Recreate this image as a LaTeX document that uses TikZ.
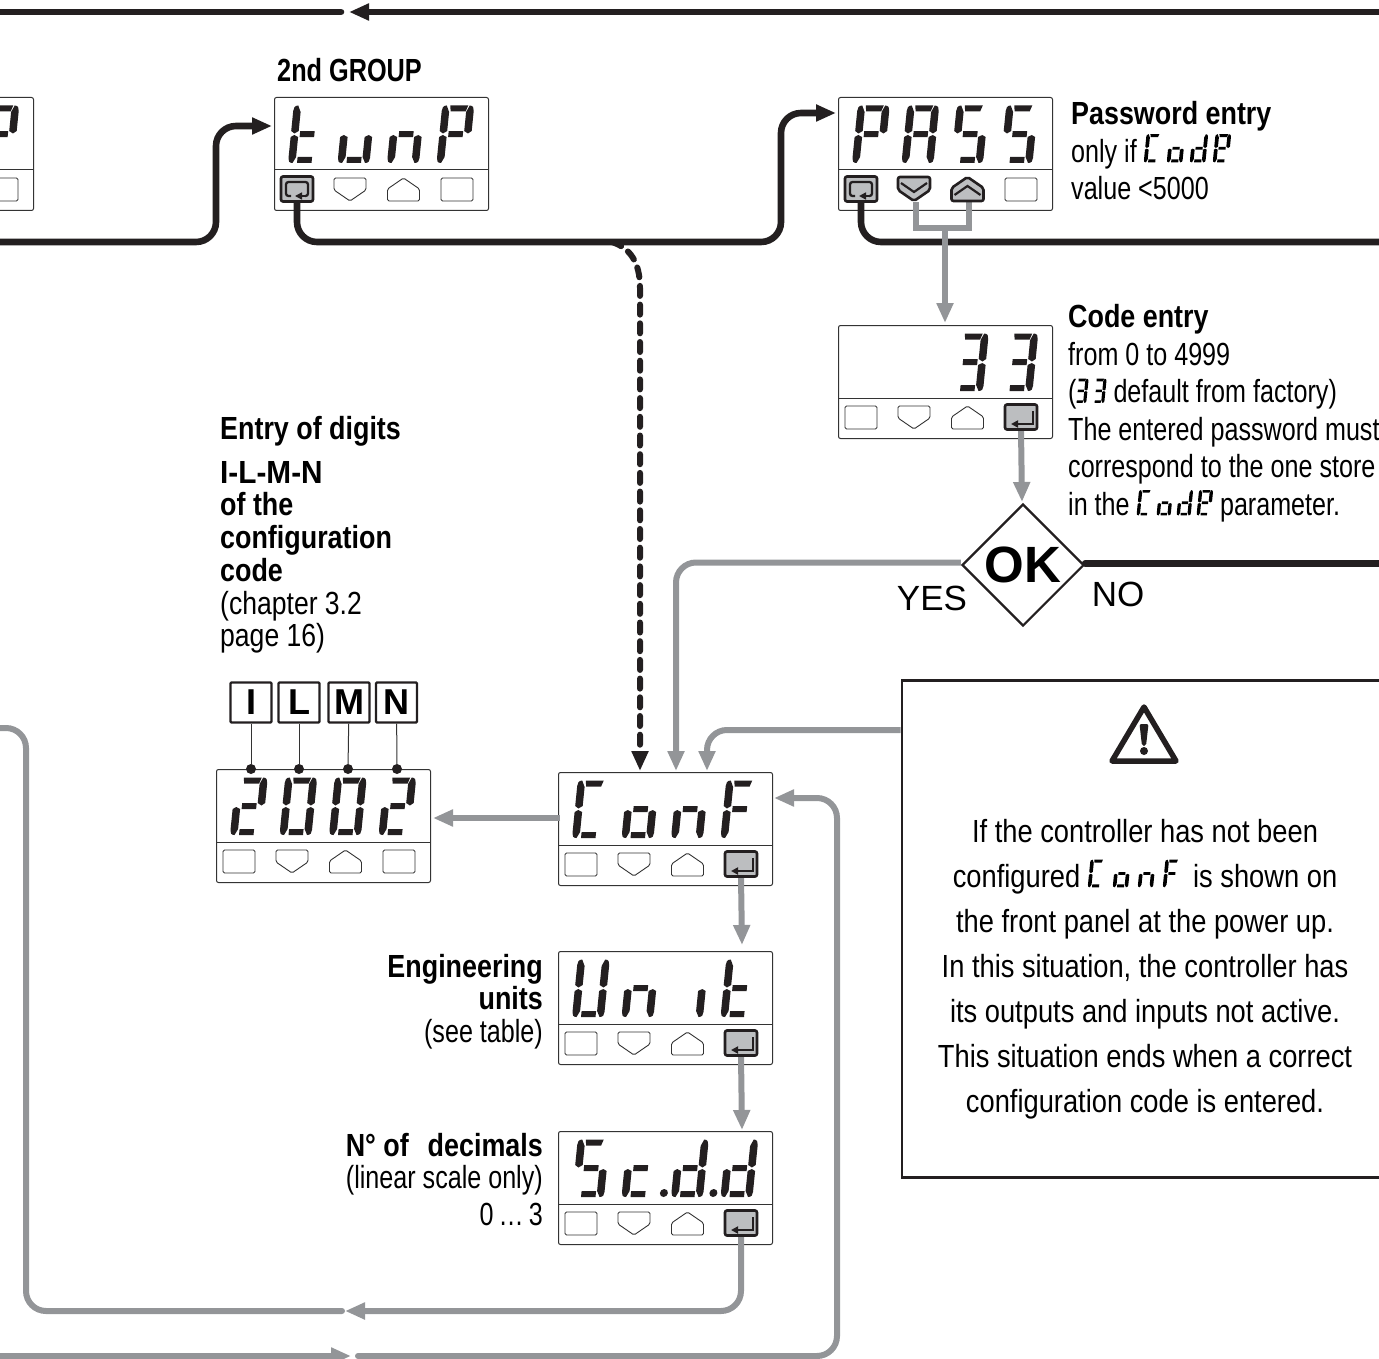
\documentclass[tikz,border=0pt]{standalone}
\usepackage{fontspec}
\usepackage{tikz}
\usetikzlibrary{arrows.meta,shapes.geometric}
\setmainfont{Liberation Sans}[FakeStretch=0.785,BoldFeatures={FakeStretch=0.84}]
\newfontfamily\widefont{Liberation Sans}
\newfontfamily\warnfont{Liberation Sans}[FakeStretch=0.853]
\newfontfamily\groupfont{Liberation Sans}[BoldFeatures={FakeStretch=0.79}]
\newfontfamily\pinsfont{Liberation Sans}[BoldFeatures={FakeStretch=0.93}]
\newfontfamily\pagefont{Liberation Sans}[FakeStretch=0.83]
\definecolor{flowblack}{HTML}{231F20}
\definecolor{flowgray}{HTML}{939598}
\definecolor{keygray}{HTML}{BCBEC0}
\definecolor{panelline}{HTML}{333333}
\tikzset{
  lcdbox/.style={draw=panelline,line width=1pt,rounded corners=2pt,anchor=north west,inner sep=0pt,minimum width=214pt,minimum height=113pt},
  keyspot/.style={inner sep=0pt,minimum width=32pt,minimum height=26pt},
  keyoff/.style={draw=panelline,line width=0.9pt,fill=white,rounded corners=1.5pt},
  keyon/.style={draw=flowblack,line width=2.6pt,fill=keygray,rounded corners=2pt},
  blackflow/.style={draw=flowblack,line width=6.6pt,rounded corners=20pt,line cap=round},
  grayflow/.style={draw=flowgray,line width=6pt,rounded corners=20pt},
  tipped/.style={-{Triangle[length=20pt,width=16pt]}},
  notetext/.style={inner sep=0pt,anchor=north west,align=left,text=black,font=\fontsize{32}{37.5}\selectfont},
  sidetext/.style={inner sep=0pt,anchor=north east,align=right,text=black,font=\fontsize{32}{32.6}\selectfont},
  letterbox/.style={draw=flowblack,line width=2.4pt,rounded corners=1pt,inner sep=0pt,minimum width=41pt,minimum height=40pt,font=\widefont\bfseries\fontsize{36}{36}\selectfont},
  pindot/.style={circle,fill=flowblack,inner sep=0pt,minimum size=10pt},
}
\newcommand{\sega}{\fill (8,57.5) -- (26,57.5) -- (24,51.5) -- (9,51.5) -- cycle;}
\newcommand{\segb}{\fill (27.5,57.5) .. controls (31,57.5) and (32,55) .. (32,52) -- (32,32) -- (28.5,29.5) -- (24.5,32) -- (24.5,51) -- cycle;}
\newcommand{\segc}{\fill (32,26) -- (32,5) .. controls (32,2) and (31,0) .. (27.5,0) -- (24.5,6) -- (24.5,26) -- (28.5,28) -- cycle;}
\newcommand{\segd}{\fill (9,6) -- (23.5,6) -- (23.5,0) -- (9,0) -- cycle;}
\newcommand{\sege}{\fill (0,26) -- (0,5) .. controls (0,2) and (1,0) .. (4.5,0) -- (7.5,6) -- (7.5,26) -- (3.5,28) -- cycle;}
\newcommand{\segf}{\fill (4.5,57.5) .. controls (1,57.5) and (0,55) .. (0,52) -- (0,32) -- (3.5,29.5) -- (7.5,32) -- (7.5,51) -- cycle;}
\newcommand{\segg}{\fill (9,31.8) -- (23.5,31.8) -- (23.5,25.8) -- (9,25.8) -- cycle;}
\newcommand{\segdot}{\fill (-7.5,4) circle (4);}
\newcommand{\chBlank}{}
\newcommand{\chZero}{\sega\segb\segc\segd\sege\segf}
\newcommand{\chTwo}{\sega\segb\segg\sege\segd}
\newcommand{\chThree}{\sega\segb\segg\segc\segd}
\newcommand{\chA}{\sega\segb\segc\sege\segf\segg}
\newcommand{\chBigC}{\sega\segf\sege\segd}
\newcommand{\chSmallC}{\segg\sege\segd}
\newcommand{\chD}{\segb\segc\segd\sege\segg}
\newcommand{\chDotD}{\segdot\chD}
\newcommand{\chE}{\sega\segb\segf\segg\sege\segd}
\newcommand{\chF}{\sega\segf\segg\sege}
\newcommand{\chI}{\segc}
\newcommand{\chN}{\segg\sege\segc}
\newcommand{\chO}{\segg\sege\segd\segc}
\newcommand{\chP}{\sega\segb\segf\segg\sege}
\newcommand{\chS}{\sega\segf\segg\segc\segd}
\newcommand{\chT}{\segf\sege\segd\segg}
\newcommand{\chSmallU}{\sege\segd\segc}
\newcommand{\chBigU}{\segf\sege\segd\segc\segb}
\newcommand{\lcdword}[3]{\tikz[baseline=0pt,x={(#1pt,0pt)},y={(0.1*#1pt,#1pt)}]{\foreach \gl [count=\i from 0] in {#3}{\begin{scope}[shift={(\i*#2/#1,0)}]\gl\end{scope}}}}
\newcommand{\lcdpanel}[4]{
  \node[lcdbox] (#1) at (#2,#3) {};
  \draw[panelline,line width=1pt] ([yshift=-73pt]#1.north west) -- ([yshift=-73pt]#1.north east);
  \begin{scope}[shift={(#2+14,#3+66)},x={(1pt,0pt)},y={(0.1pt,1pt)},fill=flowblack]
    \foreach \gl [count=\i from 0] in {#4}{\begin{scope}[shift={(\i*49.5,0)}]\gl\end{scope}}
  \end{scope}
  \node[keyspot] (#1-k1) at (#2+23,#3+92) {};
  \node[keyspot] (#1-k2) at (#2+76,#3+92) {};
  \node[keyspot] (#1-k3) at (#2+129.5,#3+92) {};
  \node[keyspot] (#1-k4) at (#2+183,#3+92) {};
  \draw[keyoff] (#2+7,#3+81) rectangle (#2+39,#3+104);
  \draw[keyoff] (#2+60,#3+81) -- (#2+92,#3+81) -- (#2+92,#3+93) -- (#2+76,#3+104) -- (#2+60,#3+93) -- cycle;
  \draw[keyoff] (#2+113.5,#3+104) -- (#2+145.5,#3+104) -- (#2+145.5,#3+92) -- (#2+129.5,#3+81) -- (#2+113.5,#3+92) -- cycle;
  \draw[keyoff] (#2+167,#3+81) rectangle (#2+199,#3+104);
}
\newcommand{\keyloop}[1]{
  \begin{scope}[shift={(#1.center)}]
    \draw[keyon] (-16,-12.5) rectangle (16,12.5);
    \draw[flowblack,line width=2.3pt,rounded corners=2.5pt] (-6,7) -- (-11,7) -- (-11,-7) -- (11,-7) -- (11,7) -- (8,7);
    \draw[flowblack,line width=1.6pt,-{Triangle[length=7pt,width=7pt]}] (9,7) -- (-2,7);
  \end{scope}
}
\newcommand{\keyenter}[1]{
  \begin{scope}[shift={(#1.center)}]
    \draw[keyon] (-16,-12.5) rectangle (16,12.5);
    \draw[flowblack,line width=1.8pt,-{Triangle[length=7pt,width=7pt]}] (12,-6) -- (12,7) -- (-10,7);
  \end{scope}
}
\newcommand{\keyvee}[1]{
  \begin{scope}[shift={(#1.center)}]
    \draw[keyon] (-16,-12) -- (16,-12) -- (16,1) -- (0,12) -- (-16,1) -- cycle;
    \draw[flowblack,line width=2.2pt] (-13,-6) -- (0,3) -- (13,-6);
  \end{scope}
}
\newcommand{\keywedge}[1]{
  \begin{scope}[shift={(#1.center)}]
    \draw[keyon] (-16,12) -- (16,12) -- (16,-1) -- (0,-12) -- (-16,-1) -- cycle;
    \draw[flowblack,line width=2.2pt] (-13,6) -- (0,-3) -- (13,6);
  \end{scope}
}
\begin{document}
\begin{tikzpicture}[x=1pt,y=-1pt]
  \useasboundingbox (0,0) rectangle (1379,1359);
  \clip (0,0) rectangle (1379,1359);
  \lcdpanel{first}{-181}{97}{\chBlank,\chBlank,\chBlank,\chP}
  \lcdpanel{tune}{274}{97}{\chT,\chSmallU,\chN,\chP}
  \lcdpanel{pass}{838}{97}{\chP,\chA,\chS,\chS}
  \lcdpanel{code}{838}{325}{\chBlank,\chBlank,\chThree,\chThree}
  \lcdpanel{digits}{216}{769}{\chTwo,\chZero,\chZero,\chTwo}
  \lcdpanel{conf}{558}{772}{\chBigC,\chO,\chN,\chF}
  \lcdpanel{unit}{558}{951}{\chBigU,\chN,\chI,\chT}
  \lcdpanel{scdd}{558}{1131}{\chS,\chSmallC,\chDotD,\chDotD}

  \coordinate (top-e) at (1385,12);
  \coordinate (top-tip) at (349,12);
  \coordinate (top-tail) at (341,12);
  \coordinate (top-w) at (-5,12);
  \coordinate (tune-in) at (272,126);
  \coordinate (pass-in) at (836,113);
  \coordinate (pass-e) at (1385,242);
  \coordinate (no-e) at (1385,563.5);
  \coordinate (branch) at (612,242);
  \coordinate (conf-dash) at (640,771);
  \coordinate (conf-yes) at (676,771);
  \coordinate (conf-warn) at (707,771);
  \coordinate (conf-out) at (560,818);
  \coordinate (digits-in) at (433,818);
  \coordinate (conf-ret) at (774,798);
  \coordinate (code-in) at (945,323);
  \coordinate (pass-bus) at (945,228.5);
  \coordinate (ok-in) at (1022,502);
  \coordinate (unit-in) at (742,945);
  \coordinate (scdd-in) at (742,1130);
  \coordinate (back-tip) at (345,1311);
  \coordinate (back-tail) at (342,1311);
  \coordinate (back-w) at (-5,728);
  \coordinate (bot-w) at (-5,1356);
  \coordinate (bot-tip) at (351,1356);
  \coordinate (bot-tail) at (358,1356);

  \node[draw=flowblack,line width=2.6pt,anchor=north west,inner sep=0pt,minimum width=600pt,minimum height=497pt] (warnbox) at (900.5,679) {};
  \node[diamond,aspect=1,draw=flowblack,line width=2.2pt,fill=white,inner sep=0pt,minimum size=122pt,font=\widefont\bfseries\fontsize{51}{51}\selectfont] (ok) at (1023,565) {OK};

  \draw[blackflow,tipped] (top-e) -- (top-tip);
  \draw[blackflow] (top-tail) -- (top-w);
  \draw[blackflow,tipped] (first-k1.south) |- (216,242) |- (tune-in);
  \draw[blackflow,tipped] (tune-k1.south) |- (781,242) |- (pass-in);
  \draw[blackflow] (pass-k1.south) |- (pass-e);
  \draw[blackflow] ([yshift=1.5pt]ok.east) -- (no-e);
  \draw[flowblack,line width=6pt,line cap=round,dash pattern=on 10pt off 8.7pt,tipped] (branch) .. controls (630,248) and (640,262) .. (640,288) -- (conf-dash);

  \draw[grayflow,tipped] ([yshift=2.5pt]ok.west) -| (conf-yes);
  \draw[grayflow,tipped] ([yshift=-51pt]warnbox.north west) -| (conf-warn);
  \draw[grayflow,tipped] (conf-out) -- (digits-in);
  \draw[grayflow,tipped] (conf-k4.south) -- (unit-in);
  \draw[grayflow,tipped] (unit-k4.south) -- (scdd-in);
  \draw[grayflow,rounded corners=0pt] ([xshift=1.5pt]pass-k2.south) |- (pass-bus) -| ([xshift=1pt]pass-k3.south);
  \draw[grayflow,tipped] (pass-bus) -- (code-in);
  \draw[grayflow,tipped] (code-k4.south) -- (ok-in);
  \draw[grayflow,tipped] (scdd-k4.south) |- (back-tip);
  \draw[grayflow,line cap=round] (back-tail) -| (26,728) -- (back-w);
  \draw[grayflow,tipped] (bot-w) -- (bot-tip);
  \draw[grayflow,line cap=round,tipped] (bot-tail) -| (837,798) -- (conf-ret);

  \keyloop{tune-k1}
  \keyloop{first-k1}
  \keyloop{pass-k1}
  \keyvee{pass-k2}
  \keywedge{pass-k3}
  \keyenter{code-k4}
  \keyenter{conf-k4}
  \keyenter{unit-k4}
  \keyenter{scdd-k4}

  \node[letterbox] (let-i) at (251,702.5) {I};
  \node[letterbox] (let-l) at (299,702.5) {L};
  \node[letterbox] (let-m) at (349,702.5) {M};
  \node[letterbox] (let-n) at (396.5,702.5) {N};
  \node[pindot] (pin-i) at (251,769) {};
  \node[pindot] (pin-l) at (299,769) {};
  \node[pindot] (pin-m) at (348,769) {};
  \node[pindot] (pin-n) at (397,769) {};
  \draw[panelline,line width=1pt] (let-i) -- (pin-i);
  \draw[panelline,line width=1pt] (let-l) -- (pin-l);
  \draw[panelline,line width=1pt] (let-m) -- (pin-m);
  \draw[panelline,line width=1pt] (let-n) -- (pin-n);

  \node[notetext] (group-label) at (277,58) {\groupfont\bfseries 2nd GROUP};
  \node[notetext] (pass-label) at (1071,101.5) {\bfseries Password entry\\only if \lcdword{0.49}{23}{\chBigC,\chO,\chD,\chE}\\value <5000};
  \node[notetext] (code-label) at (1068,304.5) {\bfseries Code entry\\from 0 to 4999\\(\lcdword{0.42}{18}{\chThree,\chThree} default from factory)\\The entered password must\\correspond to the one store\\in the \lcdword{0.44}{20}{\chBigC,\chO,\chD,\chE} parameter.};
  \node[notetext] (digits-title) at (220,416) {\bfseries Entry of digits};
  \node[notetext,font=\fontsize{32}{32.7}\selectfont] (digits-label) at (220,461) {\pinsfont\bfseries I-L-M-N\\\bfseries of the\\\bfseries configuration\\\bfseries code\\\pagefont(chapter 3.2\\\pagefont page 16)};
  \node[sidetext] (unit-label) at (543,954) {\bfseries Engineering\\\bfseries units\\(see table)};
  \node[sidetext] (scdd-label) at (543,1133) {\bfseries N° of\ \ \hspace{4pt}decimals\\(linear scale only)\\[4pt]0\hspace{5pt}…\hspace{5pt}3};
  \node[inner sep=0pt,font=\widefont\fontsize{35}{35}\selectfont] (yes-label) at (932,598) {YES};
  \node[inner sep=0pt,font=\widefont\fontsize{35}{35}\selectfont] (no-label) at (1118,594) {NO};

  \draw[flowblack,line width=5.5pt,line join=round] (1144,707) -- (1112,761) -- (1176,761) -- cycle;
  \fill[flowblack,rounded corners=2pt] (1139.5,724) -- (1148.5,724) -- (1146,746) -- (1142,746) -- cycle;
  \fill[flowblack] (1144,751) circle (4);
  \node[inner sep=0pt,align=center,font=\warnfont\fontsize{32}{45}\selectfont] (warn-text) at (1145,969) {If the controller has not been\\configured \lcdword{0.48}{25}{\chBigC,\chO,\chN,\chF}\ \ is shown on\\the front panel at the power up.\\In this situation, the controller has\\its outputs and inputs not active.\\This situation ends when a correct\\configuration code is entered.};
\end{tikzpicture}
\end{document}
